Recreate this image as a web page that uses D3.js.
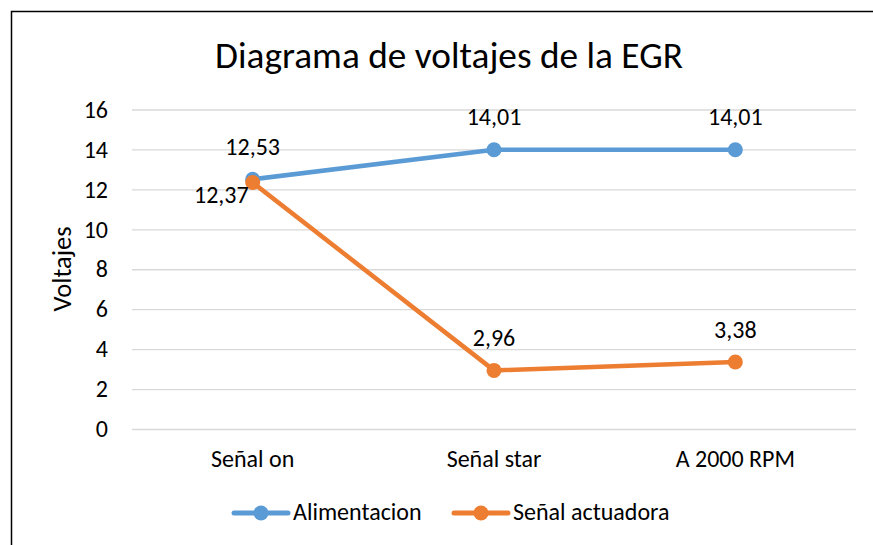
<!DOCTYPE html>
<html>
<head>
<meta charset="utf-8">
<script src="https://cdn.jsdelivr.net/npm/d3@7"></script>
<style>
  html, body { margin: 0; padding: 0; background: #fff; }
  svg text { font-family: Carlito, "Open Sans", sans-serif; fill: #000; }
</style>
</head>
<body>
<svg id="chart" width="873" height="545"></svg>
<script>
// Chart data
const categories = ["Señal on", "Señal star", "A 2000 RPM"];
const alimentacion = [12.53, 14.01, 14.01];
const senalActuadora = [12.37, 2.96, 3.38];
const yTicks = [0, 2, 4, 6, 8, 10, 12, 14, 16];
const seriesNames = ["Alimentacion", "Señal actuadora"];

const colors = ["#5B9BD5", "#ED7D31"];
const svg = d3.select("#chart");

// Outer chart frame
svg.append("rect")
  .attr("x", 11.5).attr("y", 11.5)
  .attr("width", 880).attr("height", 560)
  .attr("fill", "none").attr("stroke", "#000").attr("stroke-width", 1.5);

const plot = { left: 132, right: 856, top: 110, bottom: 429.5 };

const x = d3.scaleBand().domain(categories).range([plot.left, plot.right]);
const y = d3.scaleLinear().domain([0, 16]).range([plot.bottom, plot.top]);

const labelSize = "24px";

// Title
svg.append("text")
  .attr("x", 449).attr("y", 68)
  .attr("text-anchor", "middle")
  .style("font-size", "37.3px")
  .text("Diagrama de voltajes de la EGR");

// Gridlines
svg.append("g")
  .selectAll("line").data(yTicks).join("line")
  .attr("x1", plot.left).attr("x2", plot.right)
  .attr("y1", d => y(d)).attr("y2", d => y(d))
  .attr("stroke", "#d9d9d9").attr("stroke-width", 1.3);

// Y axis labels
const yAxis = d3.axisLeft(y).tickValues(yTicks).tickSize(0).tickPadding(0);
const gy = svg.append("g").attr("transform", `translate(${plot.left - 24},0)`).call(yAxis);
gy.select(".domain").remove();
gy.selectAll("text").style("font-size", labelSize).attr("font-family", null).attr("dy", "0.3em");

// X axis labels
const xAxis = d3.axisBottom(x).tickSize(0).tickPadding(0);
const gx = svg.append("g").attr("transform", `translate(0,${plot.bottom + 37.5})`).call(xAxis);
gx.select(".domain").remove();
gx.selectAll("text").style("font-size", labelSize).attr("font-family", null).attr("dy", null);

// Y axis title
svg.append("text")
  .attr("transform", `translate(70.5,269) rotate(-90)`)
  .attr("text-anchor", "middle")
  .style("font-size", "26.5px")
  .text("Voltajes");

const cx = d => x(d) + x.bandwidth() / 2;
const line = d3.line().x((d, i) => cx(categories[i])).y(d => y(d));

const series = [alimentacion, senalActuadora];
series.forEach((vals, si) => {
  svg.append("path")
    .datum(vals)
    .attr("d", line)
    .attr("fill", "none")
    .attr("stroke", colors[si])
    .attr("stroke-width", 4.5)
    .attr("stroke-linecap", "round")
    .attr("stroke-linejoin", "round");
  svg.append("g").selectAll("circle").data(vals).join("circle")
    .attr("cx", (d, i) => cx(categories[i]))
    .attr("cy", d => y(d))
    .attr("r", 7.5)
    .attr("fill", colors[si]);
});

// Data labels
const fmt = v => v.toFixed(2).replace(".", ",");
const lbl = svg.append("g").style("font-size", labelSize);
alimentacion.forEach((v, i) => {
  lbl.append("text")
    .attr("x", cx(categories[i]))
    .attr("y", y(v) - 24.5)
    .attr("text-anchor", "middle")
    .text(fmt(v));
});
senalActuadora.forEach((v, i) => {
  const first = i === 0;
  lbl.append("text")
    .attr("x", first ? cx(categories[i]) - 4 : cx(categories[i]))
    .attr("y", first ? y(v) + 20.5 : y(v) - 24.5)
    .attr("text-anchor", first ? "end" : "middle")
    .text(fmt(v));
});

// Legend
const legend = [
  { x: 234, name: seriesNames[0], color: colors[0] },
  { x: 454, name: seriesNames[1], color: colors[1] }
];
const lg = svg.append("g");
legend.forEach(d => {
  lg.append("line")
    .attr("x1", d.x).attr("x2", d.x + 54)
    .attr("y1", 513).attr("y2", 513)
    .attr("stroke", d.color).attr("stroke-width", 5)
    .attr("stroke-linecap", "round");
  lg.append("circle").attr("cx", d.x + 27).attr("cy", 513).attr("r", 7.5).attr("fill", d.color);
  lg.append("text")
    .attr("x", d.x + 59).attr("y", 520)
    .style("font-size", labelSize)
    .text(d.name);
});
</script>
</body>
</html>
